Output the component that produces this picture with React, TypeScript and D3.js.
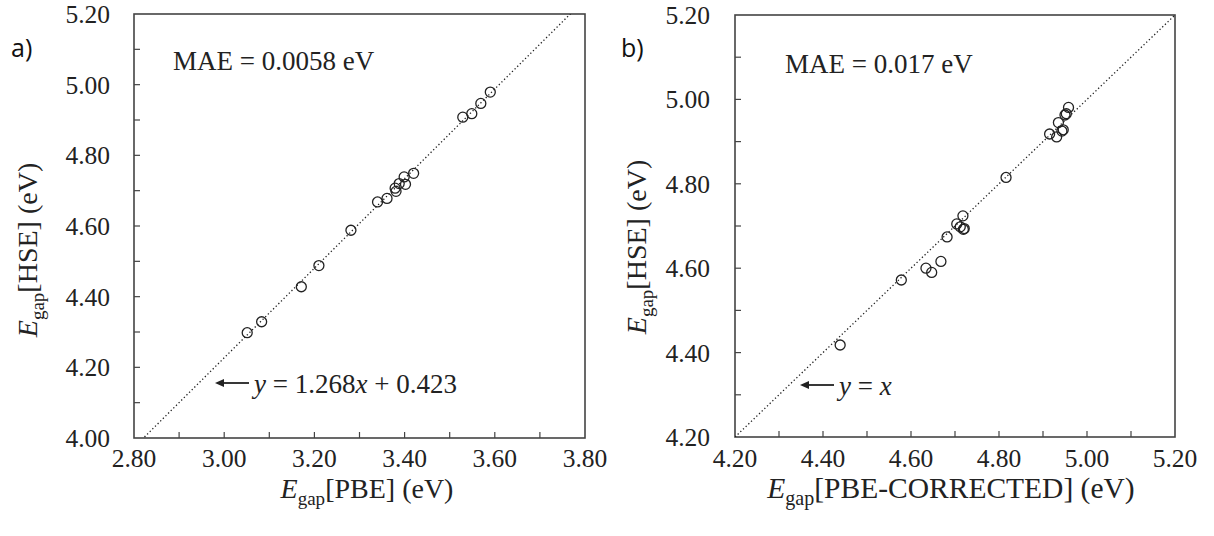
import { useEffect, useRef } from 'react';
import * as d3 from 'd3';

// Panel a: PBE gap vs HSE gap
const pbeA = [3.051, 3.083, 3.171, 3.210, 3.281, 3.340, 3.361, 3.381, 3.379, 3.388, 3.399, 3.402, 3.420, 3.529, 3.549, 3.569, 3.590];
const hseA = [4.298, 4.329, 4.428, 4.488, 4.588, 4.668, 4.678, 4.698, 4.707, 4.720, 4.739, 4.718, 4.749, 4.908, 4.918, 4.947, 4.979];

// Panel b: corrected PBE gap vs HSE gap
const corrB = [4.439, 4.578, 4.634, 4.647, 4.668, 4.682, 4.704, 4.712, 4.719, 4.721, 4.718, 4.816, 4.915, 4.931, 4.935, 4.943, 4.946, 4.950, 4.953, 4.958];
const hseB = [4.418, 4.572, 4.600, 4.590, 4.616, 4.674, 4.705, 4.698, 4.692, 4.694, 4.724, 4.815, 4.918, 4.911, 4.945, 4.925, 4.928, 4.963, 4.966, 4.981];

const ticksA_x = [2.8, 3.0, 3.2, 3.4, 3.6, 3.8];
const ticksA_y = [4.0, 4.2, 4.4, 4.6, 4.8, 5.0, 5.2];
const ticksB = [4.2, 4.4, 4.6, 4.8, 5.0, 5.2];

const fitA = { slope: 1.268, intercept: 0.423 };
const fitB = { slope: 1, intercept: 0 };

const SERIF = 'Liberation Serif, DejaVu Serif, Times New Roman, serif';
const INK = '#222';

type Panel = {
  xs: number[]; ys: number[];
  xDomain: [number, number]; yDomain: [number, number];
  xTicks: number[]; yTicks: number[];
  left: number; right: number; top: number; bottom: number;
  fit: { slope: number; intercept: number };
  tag: string; tagX: number;
  mae: string; maeX: number; maeY: number;
  eq: string; eqArrowX: number; eqY: number;
  xTitle: string; xTitleX: number; xTitleSize: number;
  yTitleX: number; yTitleY: number;
  yLabelX: number;
};

const panels: Panel[] = [
  {
    xs: pbeA, ys: hseA, xDomain: [2.8, 3.8], yDomain: [4.0, 5.2],
    xTicks: ticksA_x, yTicks: ticksA_y,
    left: 134, right: 585, top: 14, bottom: 438,
    fit: fitA, tag: 'a)', tagX: 11,
    mae: 'MAE = 0.0058 eV', maeX: 173, maeY: 70,
    eq: ' = 1.268', eqArrowX: 215, eqY: 393,
    xTitle: '[PBE] (eV)', xTitleX: 367, xTitleSize: 28,
    yTitleX: 37, yTitleY: 250, yLabelX: 110,
  },
  {
    xs: corrB, ys: hseB, xDomain: [4.2, 5.2], yDomain: [4.2, 5.2],
    xTicks: ticksB, yTicks: ticksB,
    left: 735, right: 1175, top: 15, bottom: 437,
    fit: fitB, tag: 'b)', tagX: 621,
    mae: 'MAE = 0.017 eV', maeX: 785, maeY: 73,
    eq: ' = ', eqArrowX: 800, eqY: 395,
    xTitle: '[PBE-CORRECTED] (eV)', xTitleX: 951, xTitleSize: 29.5,
    yTitleX: 646, yTitleY: 247, yLabelX: 710,
  },
];

const App = () => {
  const canvas = useRef<SVGSVGElement>(null);

  useEffect(() => {
    const svg = d3.select(canvas.current);
    svg.selectAll('*').remove();
    const defs = svg.append('defs');

    panels.forEach((p, pi) => {
      const x = d3.scaleLinear().domain(p.xDomain).range([p.left, p.right]);
      const y = d3.scaleLinear().domain(p.yDomain).range([p.bottom, p.top]);
      const g = svg.append('g');

      // clip for the dotted line
      defs.append('clipPath').attr('id', `clip${pi}`)
        .append('rect')
        .attr('x', p.left).attr('y', p.top)
        .attr('width', p.right - p.left).attr('height', p.bottom - p.top);

      // ticks every 0.1, pointing inward
      const xt = d3.range(p.xDomain[0], p.xDomain[1] + 1e-9, 0.1);
      const yt = d3.range(p.yDomain[0], p.yDomain[1] + 1e-9, 0.1);
      g.selectAll('.xt').data(xt.slice(1, -1)).join('line')
        .attr('x1', d => x(d)).attr('x2', d => x(d))
        .attr('y1', p.bottom).attr('y2', p.bottom - 6)
        .attr('stroke', '#444').attr('stroke-width', 1.2);
      g.selectAll('.yt').data(yt.slice(1, -1)).join('line')
        .attr('y1', d => y(d)).attr('y2', d => y(d))
        .attr('x1', p.left).attr('x2', p.left + 6)
        .attr('stroke', '#444').attr('stroke-width', 1.2);

      // Frame
      g.append('rect')
        .attr('x', p.left).attr('y', p.top)
        .attr('width', p.right - p.left).attr('height', p.bottom - p.top)
        .attr('fill', 'none').attr('stroke', '#444').attr('stroke-width', 1.6);

      // Tick labels
      g.selectAll('.xl').data(p.xTicks).join('text')
        .attr('x', d => x(d)).attr('y', 467)
        .attr('text-anchor', 'middle')
        .style('font-family', SERIF).attr('font-size', 25.5).attr('fill', INK)
        .text(d => d.toFixed(2));
      g.selectAll('.yl').data(p.yTicks).join('text')
        .attr('x', p.yLabelX).attr('y', d => y(d) + 9)
        .attr('text-anchor', 'end')
        .style('font-family', SERIF).attr('font-size', 25.5).attr('fill', INK)
        .text(d => d.toFixed(2));

      // Dotted fit line
      const f = (v: number) => p.fit.slope * v + p.fit.intercept;
      const line = d3.line<number>().x(d => x(d)).y(d => y(f(d)));
      g.append('path')
        .datum([p.xDomain[0], p.xDomain[1]])
        .attr('d', line)
        .attr('clip-path', `url(#clip${pi})`)
        .attr('fill', 'none').attr('stroke', '#222')
        .attr('stroke-width', 1.3).attr('stroke-dasharray', '1.3,2.4');

      // Points
      g.selectAll('.pt').data(p.xs).join('circle')
        .attr('cx', d => x(d)).attr('cy', (_, i) => y(p.ys[i]))
        .attr('r', 5)
        .attr('fill', 'none').attr('stroke', '#222').attr('stroke-width', 1.3);

      // Panel tag
      g.append('text')
        .attr('x', p.tagX).attr('y', 57)
        .style('font-family', 'Open Sans, Noto Sans, sans-serif')
        .attr('font-size', 25).attr('fill', '#111')
        .text(p.tag);

      // MAE
      g.append('text')
        .attr('x', p.maeX).attr('y', p.maeY)
        .style('font-family', SERIF).attr('font-size', 27).attr('fill', INK)
        .text(p.mae);

      // Arrow + equation
      const ay = p.eqY - 10;
      g.append('line')
        .attr('x1', p.eqArrowX + 34).attr('x2', p.eqArrowX + 6)
        .attr('y1', ay).attr('y2', ay)
        .attr('stroke', INK).attr('stroke-width', 1.8);
      g.append('path')
        .attr('d', `M${p.eqArrowX},${ay} L${p.eqArrowX + 9},${ay - 4} L${p.eqArrowX + 9},${ay + 4} Z`)
        .attr('fill', INK);
      const eq = g.append('text')
        .attr('x', p.eqArrowX + 39).attr('y', p.eqY)
        .style('font-family', SERIF).attr('font-size', 27).attr('fill', INK)
        .style('white-space', 'pre');
      eq.append('tspan').attr('font-style', 'italic').text('y');
      eq.append('tspan').text(p.eq);
      eq.append('tspan').attr('font-style', 'italic').text('x');
      if (pi === 0) eq.append('tspan').text(' + 0.423');

      // X title
      const xs = p.xTitleSize;
      const xtt = g.append('text')
        .attr('x', p.xTitleX).attr('y', 498)
        .attr('text-anchor', 'middle')
        .style('font-family', SERIF).attr('font-size', xs).attr('fill', INK);
      xtt.append('tspan').attr('font-style', 'italic').text('E');
      xtt.append('tspan').attr('font-size', xs * 0.68).attr('dy', 7).text('gap');
      xtt.append('tspan').attr('dy', -7).text(p.xTitle);

      // Y title
      const ytt = g.append('text')
        .attr('transform', `translate(${p.yTitleX},${p.yTitleY}) rotate(-90)`)
        .attr('text-anchor', 'middle')
        .style('font-family', SERIF).attr('font-size', 28).attr('fill', INK);
      ytt.append('tspan').attr('font-style', 'italic').text('E');
      ytt.append('tspan').attr('font-size', 19).attr('dy', 7).text('gap');
      ytt.append('tspan').attr('dy', -7).text('[HSE] (eV)');
    });
  }, []);

  return (
    <svg ref={canvas} width={1214} height={536}
      style={{ position: 'absolute', left: 0, top: 0, background: '#fff' }} />
  );
};

export default App;
